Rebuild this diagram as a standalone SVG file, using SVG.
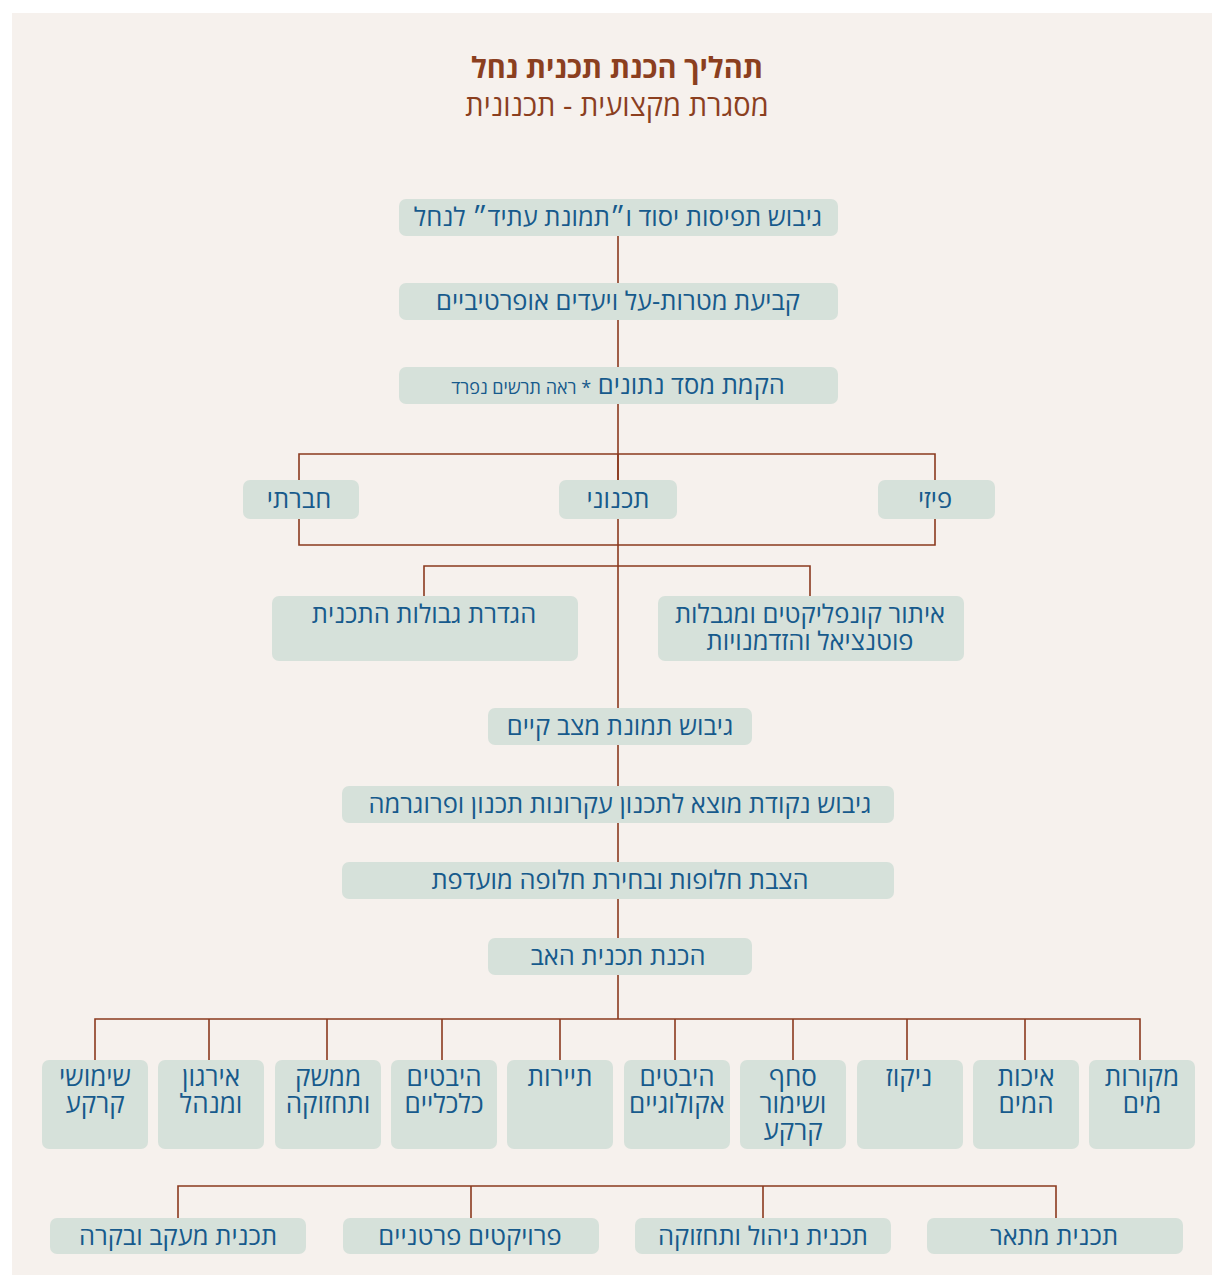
<svg xmlns="http://www.w3.org/2000/svg" width="1212" height="1275" viewBox="0 0 1212 1275">
<style>
.bg{fill:#f6f1ed}
.box{fill:#d6e1da}
.t{font-family:"Open Sans","Liberation Sans","DejaVu Sans",sans-serif;font-size:25.5px;fill:#175a8c;text-anchor:middle;direction:rtl}
.b{font-size:26px}
.s{font-size:18px}
.title{font-family:"Open Sans","Liberation Sans","DejaVu Sans",sans-serif;font-size:29px;fill:#8b3f1f;text-anchor:middle;direction:rtl}
.ln{stroke:#8b3a1e;stroke-width:1.6;fill:none}
</style>
<rect class="bg" x="12" y="13" width="1200" height="1262"/>
<g id="title">
<text class="title" x="617" y="78" font-weight="bold">תהליך הכנת תכנית נחל</text>
<text class="title" x="617" y="116">מסגרת מקצועית - תכנונית</text>
</g>
<g id="connectors">
<path class="ln" d="M618 236V708M618 745V786M618 823V862M618 899V938M618 975V1019"/>
<path class="ln" d="M299 480V454H935V480M618 454V480"/>
<path class="ln" d="M299 519V545H935V519"/>
<path class="ln" d="M424 596V566H810V596"/>
<path class="ln" d="M95 1060V1019H1140V1060M209 1019V1060M327 1019V1060M442 1019V1060M560 1019V1060M675 1019V1060M793 1019V1060M907 1019V1060M1025 1019V1060"/>
<path class="ln" d="M178 1218V1186H1056V1218M471 1186V1218M763 1186V1218"/>
</g>
<g id="n1"><rect class="box" x="399" y="199" width="439" height="37" rx="7"/><text class="t" x="618" y="226">גיבוש תפיסות יסוד ו״תמונת עתיד״ לנחל</text></g>
<g id="n2"><rect class="box" x="399" y="283" width="439" height="37" rx="7"/><text class="t" x="618" y="310">קביעת מטרות-על ויעדים אופרטיביים</text></g>
<g id="n3"><rect class="box" x="399" y="367" width="439" height="37" rx="7"/><text class="t" x="618" y="394">הקמת מסד נתונים <tspan class="s">* ראה תרשים נפרד</tspan></text></g>
<g id="n4"><rect class="box" x="243" y="480" width="116" height="39" rx="7"/><text class="t" x="299" y="508">חברתי</text></g>
<g id="n5"><rect class="box" x="559" y="480" width="118" height="39" rx="7"/><text class="t" x="618" y="508">תכנוני</text></g>
<g id="n6"><rect class="box" x="878" y="480" width="117" height="39" rx="7"/><text class="t" x="935" y="508">פיזי</text></g>
<g id="n7"><rect class="box" x="272" y="596" width="306" height="65" rx="7"/><text class="t" x="424" y="623">הגדרת גבולות התכנית</text></g>
<g id="n8"><rect class="box" x="658" y="596" width="306" height="65" rx="7"/><text class="t" x="810" y="623">איתור קונפליקטים ומגבלות</text><text class="t" x="810" y="650">פוטנציאל והזדמנויות</text></g>
<g id="n9"><rect class="box" x="488" y="708" width="264" height="37" rx="7"/><text class="t" x="620" y="735">גיבוש תמונת מצב קיים</text></g>
<g id="n10"><rect class="box" x="342" y="786" width="552" height="37" rx="7"/><text class="t" x="620" y="813">גיבוש נקודת מוצא לתכנון עקרונות תכנון ופרוגרמה</text></g>
<g id="n11"><rect class="box" x="342" y="862" width="552" height="37" rx="7"/><text class="t" x="620" y="889">הצבת חלופות ובחירת חלופה מועדפת</text></g>
<g id="n12"><rect class="box" x="488" y="938" width="264" height="37" rx="7"/><text class="t" x="618" y="965">הכנת תכנית האב</text></g>
<g id="n13"><rect class="box" x="42" y="1060" width="106" height="89" rx="7"/><text class="t b" x="95" y="1086">שימושי</text><text class="t b" x="95" y="1113">קרקע</text></g>
<g id="n14"><rect class="box" x="158" y="1060" width="106" height="89" rx="7"/><text class="t b" x="211" y="1086">אירגון</text><text class="t b" x="211" y="1113">ומנהל</text></g>
<g id="n15"><rect class="box" x="275" y="1060" width="106" height="89" rx="7"/><text class="t b" x="328" y="1086">ממשק</text><text class="t b" x="328" y="1113">ותחזוקה</text></g>
<g id="n16"><rect class="box" x="391" y="1060" width="106" height="89" rx="7"/><text class="t b" x="444" y="1086">היבטים</text><text class="t b" x="444" y="1113">כלכליים</text></g>
<g id="n17"><rect class="box" x="507" y="1060" width="106" height="89" rx="7"/><text class="t b" x="560" y="1086">תיירות</text></g>
<g id="n18"><rect class="box" x="624" y="1060" width="106" height="89" rx="7"/><text class="t b" x="677" y="1086">היבטים</text><text class="t b" x="677" y="1113">אקולוגיים</text></g>
<g id="n19"><rect class="box" x="740" y="1060" width="106" height="89" rx="7"/><text class="t b" x="793" y="1086">סחף</text><text class="t b" x="793" y="1113">ושימור</text><text class="t b" x="793" y="1140">קרקע</text></g>
<g id="n20"><rect class="box" x="857" y="1060" width="106" height="89" rx="7"/><text class="t b" x="909" y="1086">ניקוז</text></g>
<g id="n21"><rect class="box" x="973" y="1060" width="106" height="89" rx="7"/><text class="t b" x="1026" y="1086">איכות</text><text class="t b" x="1026" y="1113">המים</text></g>
<g id="n22"><rect class="box" x="1089" y="1060" width="106" height="89" rx="7"/><text class="t b" x="1142" y="1086">מקורות</text><text class="t b" x="1142" y="1113">מים</text></g>
<g id="n23"><rect class="box" x="50" y="1218" width="256" height="36" rx="7"/><text class="t" x="178" y="1245">תכנית מעקב ובקרה</text></g>
<g id="n24"><rect class="box" x="343" y="1218" width="256" height="36" rx="7"/><text class="t" x="470" y="1245">פרויקטים פרטניים</text></g>
<g id="n25"><rect class="box" x="635" y="1218" width="256" height="36" rx="7"/><text class="t" x="763" y="1245">תכנית ניהול ותחזוקה</text></g>
<g id="n26"><rect class="box" x="927" y="1218" width="256" height="36" rx="7"/><text class="t" x="1054" y="1245">תכנית מתאר</text></g>
</svg>
